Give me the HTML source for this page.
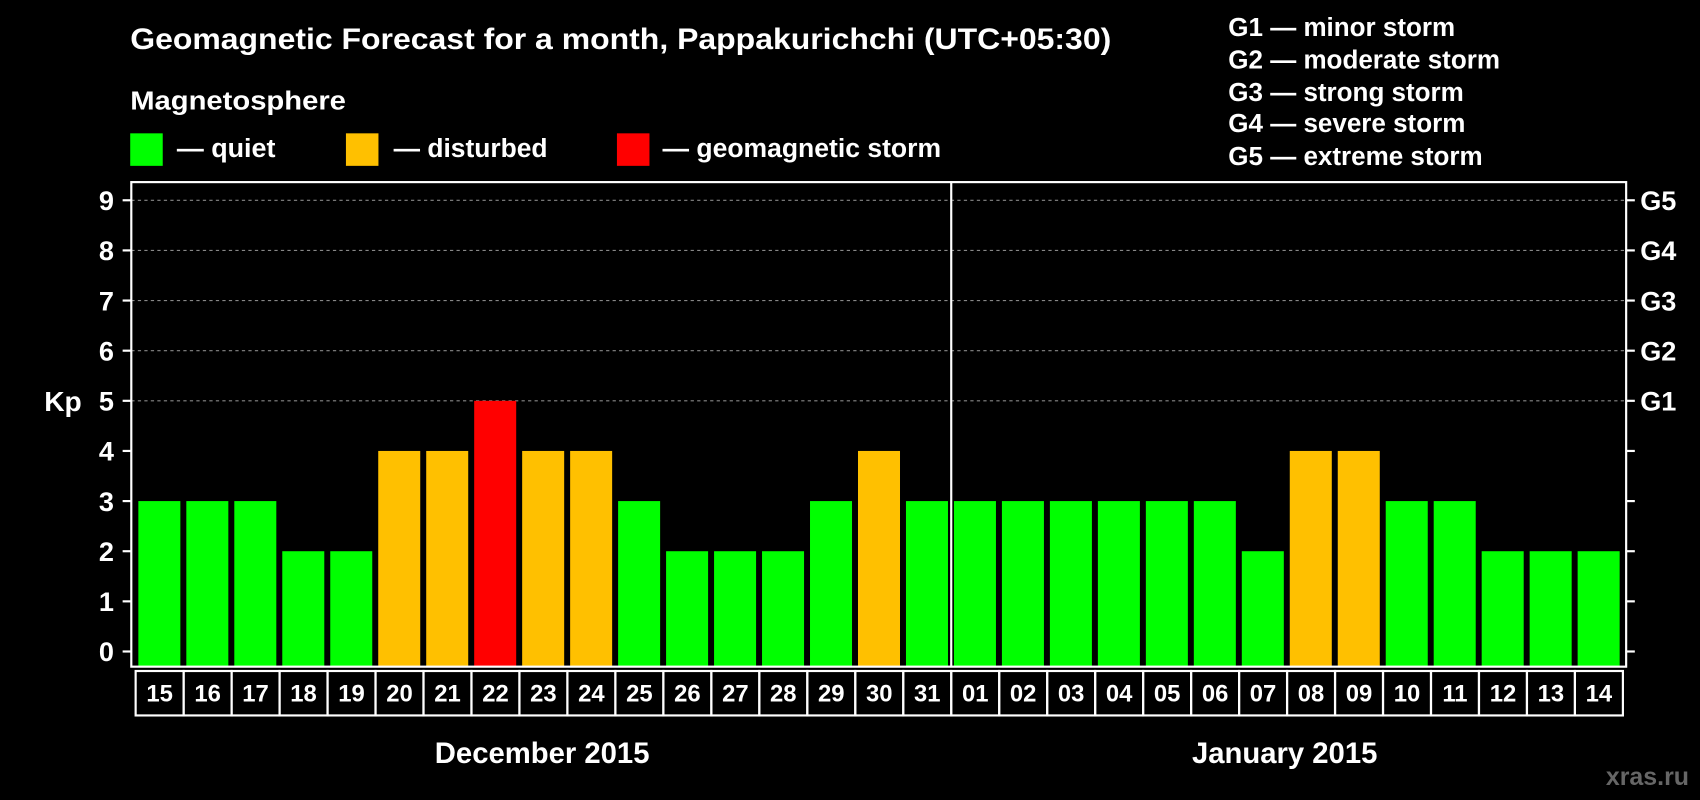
<!DOCTYPE html>
<html><head><meta charset="utf-8"><style>
html,body{margin:0;padding:0;background:#000;}
svg{display:block;font-family:"Liberation Sans",Arial,sans-serif;font-weight:bold;}
</style></head><body>
<svg id="chart" width="1700" height="800" viewBox="0 0 1568 738" xmlns="http://www.w3.org/2000/svg">
<rect x="0" y="0" width="1568" height="738" fill="#000"/>
<text x="120" y="45" fill="#fff" font-size="27" textLength="905" lengthAdjust="spacingAndGlyphs">Geomagnetic Forecast for a month, Pappakurichchi (UTC+05:30)</text>
<text x="120" y="101" fill="#fff" font-size="24" textLength="199" lengthAdjust="spacingAndGlyphs">Magnetosphere</text>
<g>
<rect x="120" y="123" width="30" height="30" fill="#00ff00"/>
<text x="163" y="145" fill="#fff" font-size="24" textLength="91" lengthAdjust="spacingAndGlyphs">— quiet</text>
<rect x="319" y="123" width="30" height="30" fill="#ffc000"/>
<text x="363" y="145" fill="#fff" font-size="24" textLength="142" lengthAdjust="spacingAndGlyphs">— disturbed</text>
<rect x="569" y="123" width="30" height="30" fill="#ff0000"/>
<text x="611" y="145" fill="#fff" font-size="24" textLength="257" lengthAdjust="spacingAndGlyphs">— geomagnetic storm</text>
</g>
<g fill="#fff" font-size="24">
<text x="1133" y="33">G1 — minor storm</text>
<text x="1133" y="63">G2 — moderate storm</text>
<text x="1133" y="93">G3 — strong storm</text>
<text x="1133" y="122">G4 — severe storm</text>
<text x="1133" y="152">G5 — extreme storm</text>
</g>
<text x="58" y="379" fill="#fff" font-size="26" text-anchor="middle">Kp</text>
<g id="plot"></g>
<text x="500" y="704" fill="#fff" font-size="27" text-anchor="middle">December 2015</text>
<text x="1185" y="704" fill="#fff" font-size="27" text-anchor="middle">January 2015</text>
<text x="1558" y="724" fill="#666" font-size="23" text-anchor="end">xras.ru</text>
</svg>
<script>
const days = ["15","16","17","18","19","20","21","22","23","24","25","26","27","28","29","30","31","01","02","03","04","05","06","07","08","09","10","11","12","13","14"];
const kpValues = [3,3,3,2,2,4,4,5,4,4,3,2,2,2,3,4,3,3,3,3,3,3,3,2,4,4,3,3,2,2,2];
const yTicks = [0,1,2,3,4,5,6,7,8,9];
const gLabels = ["G1","G2","G3","G4","G5"];
const gLevels = [5,6,7,8,9];
(function(){
const NS="http://www.w3.org/2000/svg";
const g=document.getElementById('plot');
const pLeft=121,pRight=1500,pTop=168,pBottom=615,cellLeft=125,step=(1497-125)/days.length;
const y=v=>601-v*46.25;
const x=i=>cellLeft+i*step;
function mk(t,a){const e=document.createElementNS(NS,t);for(const k in a)e.setAttribute(k,a[k]);g.appendChild(e);return e;}
function color(v){return v>=5?"#ff0000":v>=4?"#ffc000":"#00ff00";}
gLevels.forEach(v=>{const l=mk('line',{x1:pLeft,x2:pRight,y1:y(v),y2:y(v),stroke:'#888','stroke-dasharray':'3,3','stroke-width':1});

});
kpValues.forEach((v,i)=>{const r=mk('rect',{x:x(i)+2.5,y:y(v),width:step-5.5,height:pBottom-y(v),fill:color(v)});

});
const f=mk('rect',{x:pLeft,y:pTop,width:pRight-pLeft,height:pBottom-pTop,fill:'none',stroke:'#fff','stroke-width':2});


const dv=mk('line',{x1:x(17),x2:x(17),y1:pTop,y2:pBottom,stroke:'#fff','stroke-width':2});


yTicks.forEach(v=>{mk('line',{x1:pLeft-8,x2:pLeft,y1:y(v),y2:y(v),stroke:'#fff','stroke-width':2});
mk('line',{x1:pRight,x2:pRight+8,y1:y(v),y2:y(v),stroke:'#fff','stroke-width':2});
const t=mk('text',{x:105,y:y(v)+9,fill:'#fff','font-size':25,'text-anchor':'end'});t.textContent=v;

});
gLevels.forEach((v,i)=>{const t=mk('text',{x:1513,y:y(v)+9,fill:'#fff','font-size':25});t.textContent=gLabels[i];

});
days.forEach((d,i)=>{const c=mk('rect',{x:x(i),y:619,width:step,height:41,fill:'none',stroke:'#fff','stroke-width':2});


const t=mk('text',{x:x(i)+step/2,y:647,fill:'#fff','font-size':22,'text-anchor':'middle'});t.textContent=d;

});
})();
</script>
</body></html>
